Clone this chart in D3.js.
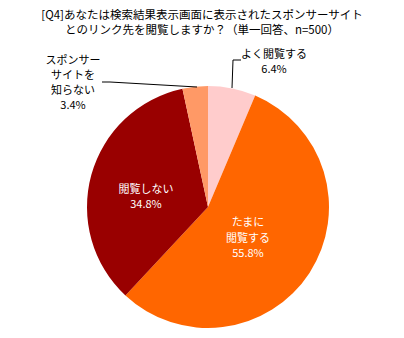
<!DOCTYPE html>
<html><head><meta charset="utf-8">
<script src="https://cdn.jsdelivr.net/npm/d3@7"></script>
<style>
html,body{margin:0;padding:0;background:#fff;}
text{font-family:"Noto Sans CJK JP","Noto Sans",sans-serif;}
</style></head>
<body>
<script>
const titleLines = ["[Q4]あなたは検索結果表示画面に表示されたスポンサーサイト", "とのリンク先を閲覧しますか？（単一回答、n=500）"];
const categories = ["よく閲覧する", "たまに閲覧する", "閲覧しない", "スポンサーサイトを知らない"];
const values = [6.4, 55.8, 34.8, 3.4];
const labelLines = [["よく閲覧する", "6.4%"], ["たまに", "閲覧する", "55.8%"], ["閲覧しない", "34.8%"], ["スポンサー", "サイトを", "知らない", "3.4%"]];
const colors = ["#FFCCCC", "#FF6600", "#990000", "#FF9966"];

const W = 404, H = 338;
const svg = d3.select("body").append("svg").attr("width", W).attr("height", H);

svg.selectAll("text.title").data(titleLines).join("text")
  .attr("class", "title")
  .attr("x", 202).attr("y", (d, i) => 14 + i * 15)
  .attr("text-anchor", "middle").attr("dominant-baseline", "central")
  .attr("font-size", 11.5).attr("fill", "#000").text(d => d);

const cx = 208, cy = 207, r = 121;
const data = categories.map((c, i) => ({ c, v: values[i], i }));
const pie = d3.pie().value(d => d.v).sort(null);
const arc = d3.arc().innerRadius(0).outerRadius(r);
const arcs = pie(data);

const g = svg.append("g").attr("transform", `translate(${cx},${cy})`);
g.selectAll("path").data(arcs).join("path")
  .attr("d", arc).attr("fill", d => colors[d.data.i]);

// label positions (relative to centre) and text colours
const labelPos = [[66, -154], [40, 14], [-62, -19], [-135, -148]];
const labelColor = ["#000", "#fff", "#fff", "#000"];
const lineH = [15, 15.5, 15, 15];

data.forEach((d, i) => {
  const lines = labelLines[i];
  const t = g.append("text")
    .attr("text-anchor", "middle")
    .attr("font-size", 11)
    .attr("fill", labelColor[i]);
  lines.forEach((s, k) => {
    t.append("tspan").attr("x", labelPos[i][0])
      .attr("y", labelPos[i][1] + k * lineH[i])
      .attr("dominant-baseline", "central").text(s);
  });
});

// leader lines
const leaders = [
  [[24, -119], [25, -147], [33, -147]],
  [[-11, -120], [-98, -125], [-106, -125]]
];
const line = d3.line();
g.selectAll("path.leader").data(leaders).join("path")
  .attr("class", "leader").attr("d", line)
  .attr("fill", "none").attr("stroke", "#000").attr("stroke-width", 1);
</script>
</body></html>
